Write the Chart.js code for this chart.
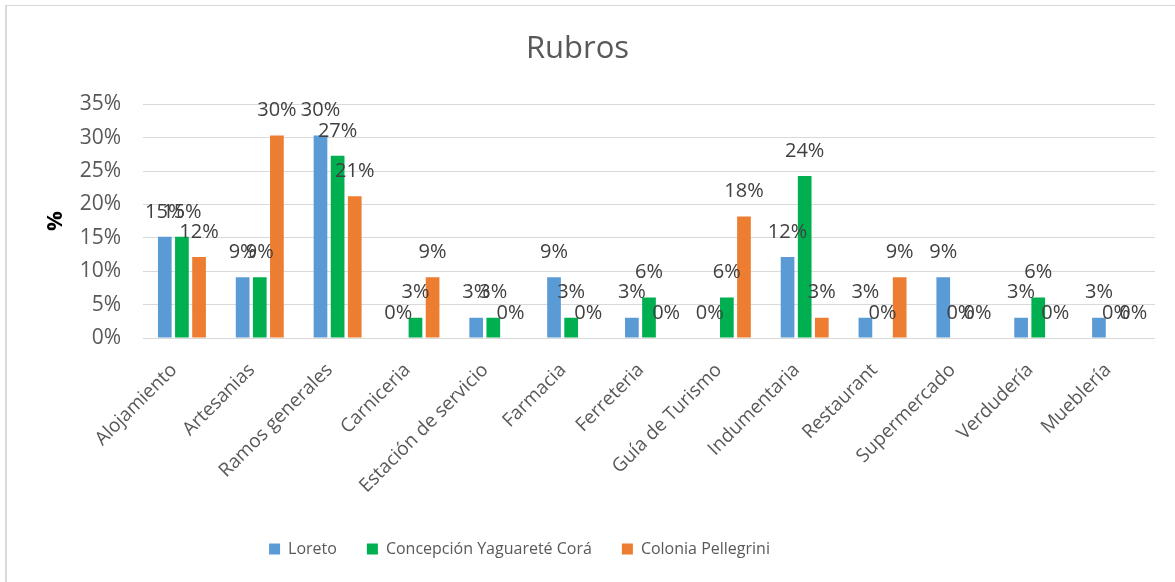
<!DOCTYPE html>
<html>
<head>
<meta charset="utf-8">
<script src="https://cdn.jsdelivr.net/npm/chart.js@4"></script>
<style>
  html, body { margin: 0; padding: 0; background: #ffffff; }
  #wrap { position: relative; width: 1175px; height: 582px; overflow: hidden; background: #fff; }
  #frame { position: absolute; left: 5px; top: 5px; width: 1300px; height: 700px;
           border-left: 2px solid #d9d9d9; border-top: 1px solid #d9d9d9; box-sizing: border-box; }
  canvas { position: absolute; left: 0; top: 0; }
</style>
</head>
<body>
<div id="wrap">
  <div id="frame"></div>
  <canvas id="c" width="1175" height="582"></canvas>
</div>
<script>
const categories = ["Alojamiento", "Artesanias", "Ramos generales", "Carniceria", "Estación de servicio",
  "Farmacia", "Ferreteria", "Guía de Turismo", "Indumentaria", "Restaurant", "Supermercado", "Verdudería", "Mueblería"];
const loreto = [15.15, 9.09, 30.30, 0, 3.03, 9.09, 3.03, 0, 12.12, 3.03, 9.09, 3.03, 3.03];
const concepcion = [15.15, 9.09, 27.27, 3.03, 3.03, 3.03, 6.06, 6.06, 24.24, 0, 0, 6.06, 0];
const pellegrini = [12.12, 30.30, 21.21, 9.09, 0, 0, 0, 18.18, 3.03, 9.09, 0, 0, 0];
const seriesNames = ["Loreto", "Concepción Yaguareté Corá", "Colonia Pellegrini"];
const seriesColors = ["#5B9BD5", "#00B050", "#ED7D31"];
const yTicks = [0, 5, 10, 15, 20, 25, 30, 35];

const FONT = "'Open Sans', 'Noto Sans', sans-serif";

const dataLabels = {
  id: 'dataLabels',
  afterDatasetsDraw(chart) {
    const ctx = chart.ctx;
    ctx.save();
    ctx.font = "20px " + FONT;
    ctx.fillStyle = "#404040";
    ctx.textAlign = "center";
    ctx.textBaseline = "middle";
    chart.data.datasets.forEach((ds, i) => {
      const meta = chart.getDatasetMeta(i);
      meta.data.forEach((bar, j) => {
        const v = ds.data[j];
        ctx.fillText(Math.round(v) + "%", bar.x, bar.y - 25);
      });
    });
    ctx.restore();
  }
};

const legendShift = {
  id: 'legendShift',
  afterLayout(chart) {
    const L = chart.legend;
    if (L) { L.left -= 58; L.right -= 58; }
  }
};

new Chart(document.getElementById('c'), {
  type: 'bar',
  data: {
    labels: categories,
    datasets: [loreto, concepcion, pellegrini].map((d, i) => ({
      label: seriesNames[i],
      data: d,
      backgroundColor: seriesColors[i],
      borderWidth: 0,
      categoryPercentage: 0.66,
      barPercentage: 0.8
    }))
  },
  options: {
    responsive: false,
    animation: false,
    devicePixelRatio: 1,
    layout: { padding: { left: 0, right: 20, top: 0, bottom: 15 } },
    plugins: {
      title: {
        display: true,
        text: "Rubros",
        color: "#595959",
        font: { family: FONT, size: 31, weight: 'normal' },
        padding: { top: 31, bottom: 36 }
      },
      legend: {
        position: 'bottom',
        labels: {
          color: "#595959",
          font: { family: FONT, size: 16 },
          boxWidth: 11,
          boxHeight: 11,
          padding: 30
        }
      },
      tooltip: { enabled: false }
    },
    scales: {
      x: {
        grid: { display: false, drawTicks: false },
        border: { display: false },
        ticks: {
          color: "#595959",
          font: { family: FONT, size: 19 },
          minRotation: 45,
          maxRotation: 45,
          padding: 21,
          labelOffset: -8,
          autoSkip: false
        },
        afterFit(scale) { scale.height = 173; }
      },
      y: {
        min: 0,
        max: 35,
        afterBuildTicks(scale) { scale.ticks = yTicks.map(v => ({ value: v })); },
        grid: { color: "#d9d9d9", lineWidth: 1, drawTicks: false },
        border: { display: false },
        ticks: {
          color: "#595959",
          font: { family: FONT, size: 21 },
          padding: 22,
          callback: v => v + "%"
        },
        title: {
          display: true,
          text: "%",
          color: "#000000",
          font: { family: FONT, size: 22, weight: 'bold' },
          padding: { top: 43, bottom: 0 }
        },
        afterFit(scale) { scale.width = 143; }
      }
    }
  },
  plugins: [dataLabels, legendShift]
});
</script>
</body>
</html>
